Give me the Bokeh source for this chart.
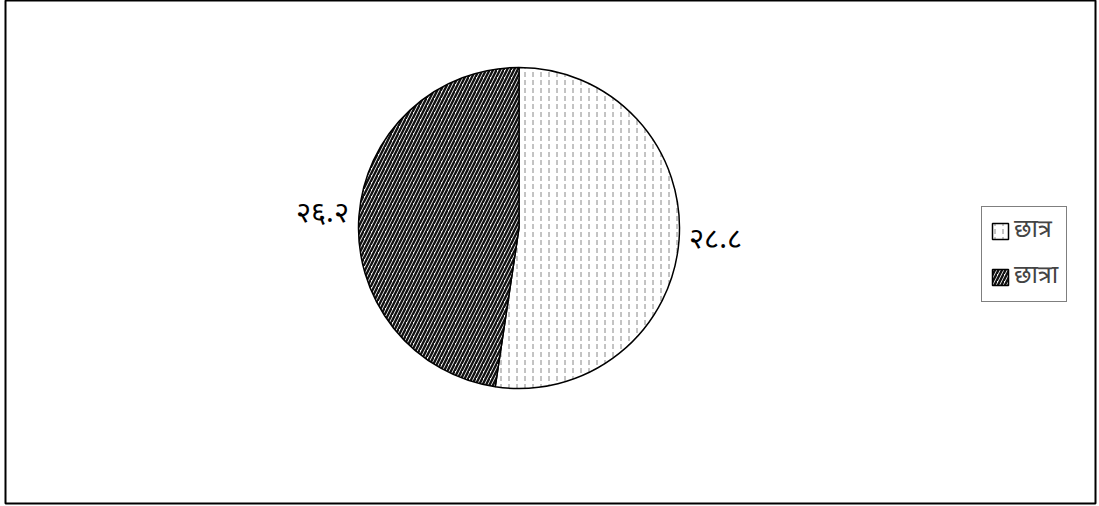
import math
from bokeh.plotting import figure
from bokeh.models import ColumnDataSource, Legend, LegendItem, Range1d
from bokeh.core.properties import value
from bokeh.embed import file_html
from bokeh.resources import INLINE

categories = ["छात्र", "छात्रा"]
values = [28.8, 26.2]
labels = ["२८.८", "२६.२"]

W, H = 1099, 506
FW, FH = 1090, 503
cx, cy, R = 513.5, 275.5, 160.5
FONT = "Noto Sans Devanagari, Lohit Devanagari, Mangal, Noto Sans, sans-serif"

total = sum(values)
start = [math.pi / 2]
ends = []
for v in values:
    e = start[-1] - v / total * 2 * math.pi
    ends.append(e)
    start.append(e)
start = start[:-1]
mids = [(s + e) / 2 for s, e in zip(start, ends)]

p = figure(width=W, height=H, output_backend="svg", toolbar_location=None,
           x_range=Range1d(0, FW), y_range=Range1d(0, FH),
           min_border_left=5, min_border_right=4, min_border_top=0, min_border_bottom=3)
p.axis.visible = False
p.grid.visible = False
p.outline_line_color = "black"
p.outline_line_width = 2

fills = ["white", "white"]
hatches = [":", "/"]
hcolors = ["#888888", "#111111"]
hscales = [8, 7]
hweights = [1, 2.4]
renderers = []
for i in range(len(values)):
    r = p.wedge(x=cx, y=cy, radius=R, start_angle=ends[i], end_angle=start[i],
                fill_color=fills[i], line_color="black", line_width=1.5,
                hatch_pattern=hatches[i], hatch_color=hcolors[i],
                hatch_scale=hscales[i], hatch_weight=hweights[i])
    renderers.append(r)

lx, ly, align = [], [], []
for m in mids:
    lx.append(cx + (R + 10) * math.cos(m))
    ly.append(cy + (R + 10) * math.sin(m))
    align.append("left" if math.cos(m) > 0 else "right")
src = ColumnDataSource(dict(x=lx, y=ly, t=labels, a=align))
p.text(x="x", y="y", text="t", text_align="a", text_baseline="middle",
       text_font=value(FONT), text_font_size="29px", text_color="black", source=src)

legend = Legend(items=[LegendItem(label=categories[i], renderers=[renderers[i]]) for i in range(2)],
                location=(976, 201))
legend.label_text_font = FONT
legend.label_text_font_size = "25px"
legend.glyph_width = 20
legend.glyph_height = 20
legend.border_line_color = "black"
legend.border_line_width = 1.5
legend.padding = 8
legend.spacing = 14
legend.margin = 0
legend.label_standoff = 4
legend.label_height = 26
p.add_layout(legend)

open("out.html", "w").write(file_html(p, INLINE))
